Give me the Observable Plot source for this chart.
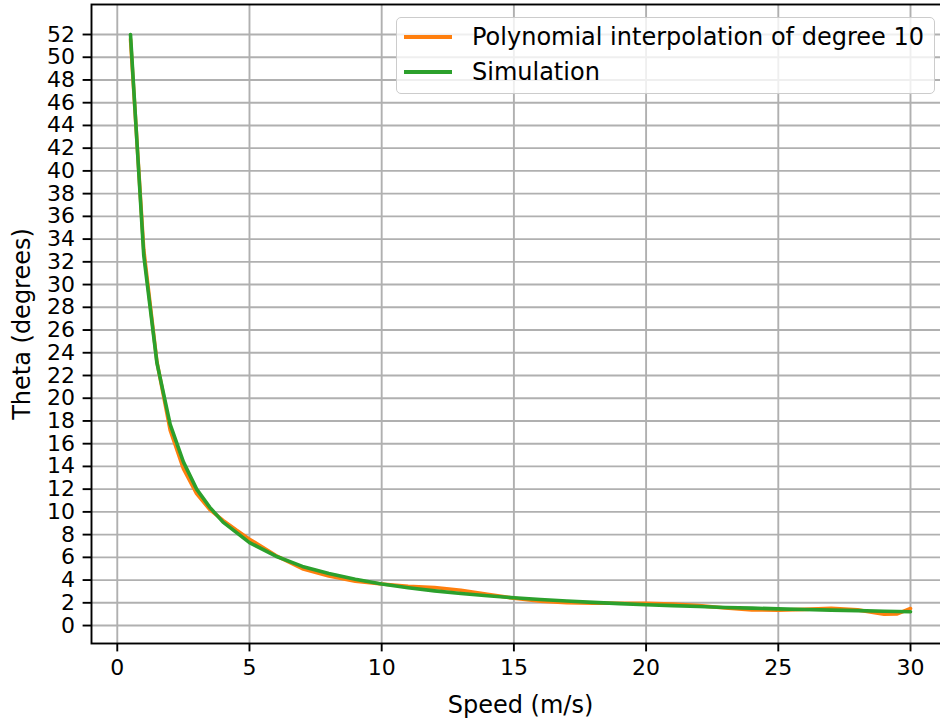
<!DOCTYPE html>
<html>
<head>
<meta charset="utf-8">
<script src="https://cdn.jsdelivr.net/npm/d3@7"></script>
<script src="https://cdn.jsdelivr.net/npm/@observablehq/plot@0.6"></script>
<style>
  html, body { margin: 0; padding: 0; background: #fff; overflow: hidden; width: 940px; height: 719px; }
  #wrap { position: relative; width: 940px; height: 719px; overflow: hidden; }
  #wrap svg { max-width: none !important; width: 960px !important; height: 719px !important; }
  #legend { position: absolute; left: 396px; top: 17px; width: 539px; height: 77px;
    border: 1.9px solid #cccccc; border-radius: 5px; background: rgba(255,255,255,0.8);
    font-family: "DejaVu Sans", sans-serif; font-size: 24px; color: #000; box-sizing: border-box; }
  .item { position: absolute; left: 0; height: 30px; }
  .sw { position: absolute; left: 7px; width: 48px; height: 3.6px; }
  .lab { position: absolute; left: 75px; white-space: nowrap; line-height: 24px; }
</style>
</head>
<body>
<div id="wrap"></div>
<script>
// Speeds (m/s)
const simSpeed = [0.5, 1, 1.5, 2, 2.5, 3, 3.5, 4, 5, 6, 7, 8, 9, 10, 11, 12, 13, 14, 15, 16, 17, 18, 19, 20, 21, 22, 23, 24, 25, 26, 27, 28, 29, 30];
// Simulation theta (degrees)
const simTheta = [52.0, 32.6, 23.1, 17.7, 14.4, 12.0, 10.4, 9.1, 7.3, 6.1, 5.2, 4.57, 4.07, 3.66, 3.33, 3.05, 2.82, 2.62, 2.44, 2.29, 2.16, 2.04, 1.93, 1.83, 1.75, 1.67, 1.59, 1.53, 1.47, 1.41, 1.36, 1.31, 1.26, 1.22];
// Polynomial interpolation of degree 10
const polySpeed = [0.5, 1, 1.5, 2, 2.5, 3, 3.5, 4, 4.5, 5, 6, 7, 8, 9, 10, 11, 12, 13, 14, 15, 16, 17, 18, 19, 20, 21, 22, 23, 24, 25, 26, 27, 28, 29, 29.5, 30];
const polyTheta = [51.6, 33.1, 23.2, 17.2, 13.8, 11.6, 10.2, 9.25, 8.4, 7.6, 6.15, 5.0, 4.35, 3.9, 3.65, 3.45, 3.35, 3.1, 2.75, 2.4, 2.15, 2.0, 1.97, 1.96, 1.96, 1.9, 1.75, 1.55, 1.37, 1.36, 1.42, 1.52, 1.38, 1.0, 1.02, 1.5];

const xTicks = [0, 5, 10, 15, 20, 25, 30];
const yTicks = d3.range(0, 53, 2);
const labels = {x: "Speed (m/s)", y: "Theta (degrees)"};
const seriesNames = ["Polynomial interpolation of degree 10", "Simulation"];
const colors = ["#ff7f0e", "#2ca02c"];

const poly = polySpeed.map((s, i) => ({speed: s, theta: polyTheta[i]}));
const sim = simSpeed.map((s, i) => ({speed: s, theta: simTheta[i]}));

const chart = Plot.plot({
  width: 960,
  height: 719,
  marginLeft: 91,
  marginRight: 11,
  marginTop: 4,
  marginBottom: 76,
  style: {fontFamily: "DejaVu Sans, sans-serif", fontSize: "22px", color: "#000", background: "#fff", overflow: "visible", maxWidth: "none"},
  x: {domain: [-0.975, 31.475]},
  y: {domain: [-1.58, 54.64]},
  marks: [
    Plot.gridX(xTicks, {stroke: "#b0b0b0", strokeOpacity: 1, strokeWidth: 1.9}),
    Plot.gridY(yTicks, {stroke: "#b0b0b0", strokeOpacity: 1, strokeWidth: 1.9}),
    Plot.line(poly, {x: "speed", y: "theta", stroke: colors[0], strokeWidth: 3.6}),
    Plot.line(sim, {x: "speed", y: "theta", stroke: colors[1], strokeWidth: 3.6}),
    Plot.axisX(xTicks, {tickSize: 8.4, tickPadding: 7, strokeWidth: 1.9, fill: "#000", stroke: "#000", fontSize: 22, label: null}),
    Plot.axisY(yTicks, {tickSize: 8.4, tickPadding: 8, strokeWidth: 1.9, fill: "#000", stroke: "#000", fontSize: 22, label: null}),
    Plot.frame({stroke: "#000", strokeWidth: 1.9}),
    Plot.text([labels.x], {frameAnchor: "bottom", dy: 62, text: d => d, textAnchor: "middle", lineAnchor: "middle", fill: "#000", fontSize: 24}),
    Plot.text([labels.y], {frameAnchor: "left", dx: -69, text: d => d, rotate: -90, textAnchor: "middle", lineAnchor: "middle", fill: "#000", fontSize: 24})
  ]
});
const wrap = document.getElementById("wrap");
wrap.appendChild(chart);

const legend = document.createElement("div");
legend.id = "legend";
seriesNames.forEach((name, i) => {
  const item = document.createElement("div");
  item.className = "item";
  item.style.top = (i === 0 ? 3 : 38) + "px";
  const sw = document.createElement("div");
  sw.className = "sw";
  sw.style.background = colors[i];
  sw.style.top = "14px";
  const lab = document.createElement("div");
  lab.className = "lab";
  lab.style.top = "4px";
  lab.textContent = name;
  item.appendChild(sw);
  item.appendChild(lab);
  legend.appendChild(item);
});
wrap.appendChild(legend);
</script>
</body>
</html>
